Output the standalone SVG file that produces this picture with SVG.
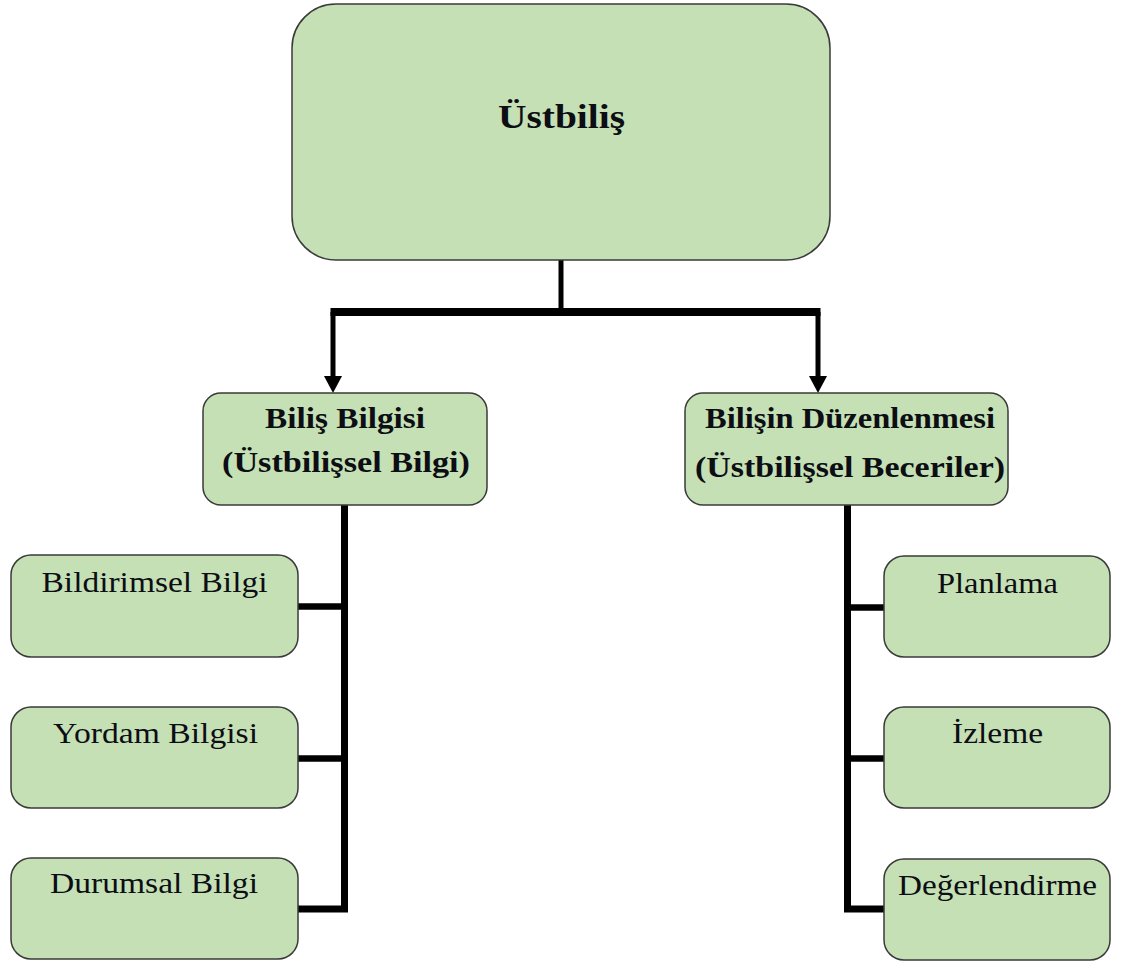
<svg xmlns="http://www.w3.org/2000/svg" width="1133" height="963" viewBox="0 0 1133 963">
<style>
.box{fill:#c5e0b4;stroke:#3a3a3a;stroke-width:1.5}
.t{font-family:"Liberation Serif","Times New Roman",serif;fill:#0d0d14;text-anchor:middle}
.b{font-weight:bold;font-size:30px}
.r{font-size:30px}
.ln{stroke:#000;fill:none;stroke-linecap:butt;stroke-linejoin:miter}
</style>
<rect width="1133" height="963" fill="#fff"/>
<g id="connectors">
<path class="ln" d="M561,260 V312" stroke-width="5"/>
<path class="ln" d="M330.5,312 H820.5" stroke-width="8"/>
<path class="ln" d="M333,312 V378" stroke-width="5"/>
<path class="ln" d="M818,312 V378" stroke-width="5"/>
<polygon points="324,376 342,376 333,393" fill="#000"/>
<polygon points="809,376 827,376 818,393" fill="#000"/>
<path class="ln" d="M344.5,505 V909 H298" stroke-width="7"/>
<path class="ln" d="M298,606.5 H344.5" stroke-width="6.5"/>
<path class="ln" d="M298,758.5 H344.5" stroke-width="6.5"/>
<path class="ln" d="M847.5,505 V909 H884" stroke-width="7"/>
<path class="ln" d="M847.5,607.5 H884" stroke-width="6.5"/>
<path class="ln" d="M847.5,758.5 H884" stroke-width="6.5"/>
</g>
<g id="ustbilis">
<rect class="box" x="292" y="4" width="538" height="256" rx="44"/>
<text class="t b" x="561.5" y="128" style="font-size:33px" textLength="127" lengthAdjust="spacingAndGlyphs">Üstbiliş</text>
</g>
<g id="bilis-bilgisi">
<rect class="box" x="203" y="393" width="284" height="112" rx="18"/>
<text class="t b" x="345" y="428" textLength="160" lengthAdjust="spacingAndGlyphs">Biliş Bilgisi</text>
<text class="t b" x="346" y="472" textLength="248" lengthAdjust="spacingAndGlyphs">(Üstbilişsel Bilgi)</text>
</g>
<g id="bilisin-duzenlenmesi">
<rect class="box" x="685" y="393" width="323" height="112" rx="18"/>
<text class="t b" x="850" y="428" textLength="290" lengthAdjust="spacingAndGlyphs">Bilişin Düzenlenmesi</text>
<text class="t b" x="850" y="477" textLength="310" lengthAdjust="spacingAndGlyphs">(Üstbilişsel Beceriler)</text>
</g>
<g id="bildirimsel-bilgi">
<rect class="box" x="11" y="555" width="287" height="102" rx="20"/>
<text class="t r" x="154.5" y="592" textLength="226" lengthAdjust="spacingAndGlyphs">Bildirimsel Bilgi</text>
</g>
<g id="yordam-bilgisi">
<rect class="box" x="11" y="707" width="287" height="101" rx="20"/>
<text class="t r" x="155.5" y="743" textLength="205" lengthAdjust="spacingAndGlyphs">Yordam Bilgisi</text>
</g>
<g id="durumsal-bilgi">
<rect class="box" x="11" y="858" width="287" height="101" rx="20"/>
<text class="t r" x="154" y="893" textLength="208" lengthAdjust="spacingAndGlyphs">Durumsal Bilgi</text>
</g>
<g id="planlama">
<rect class="box" x="884" y="556" width="226" height="101" rx="20"/>
<text class="t r" x="997.5" y="593" textLength="121" lengthAdjust="spacingAndGlyphs">Planlama</text>
</g>
<g id="izleme">
<rect class="box" x="884" y="707" width="226" height="101" rx="20"/>
<text class="t r" x="997.5" y="743" textLength="91" lengthAdjust="spacingAndGlyphs">İzleme</text>
</g>
<g id="degerlendirme">
<rect class="box" x="884" y="859" width="226" height="101" rx="20"/>
<text class="t r" x="997.5" y="895" textLength="199" lengthAdjust="spacingAndGlyphs">Değerlendirme</text>
</g>
</svg>
